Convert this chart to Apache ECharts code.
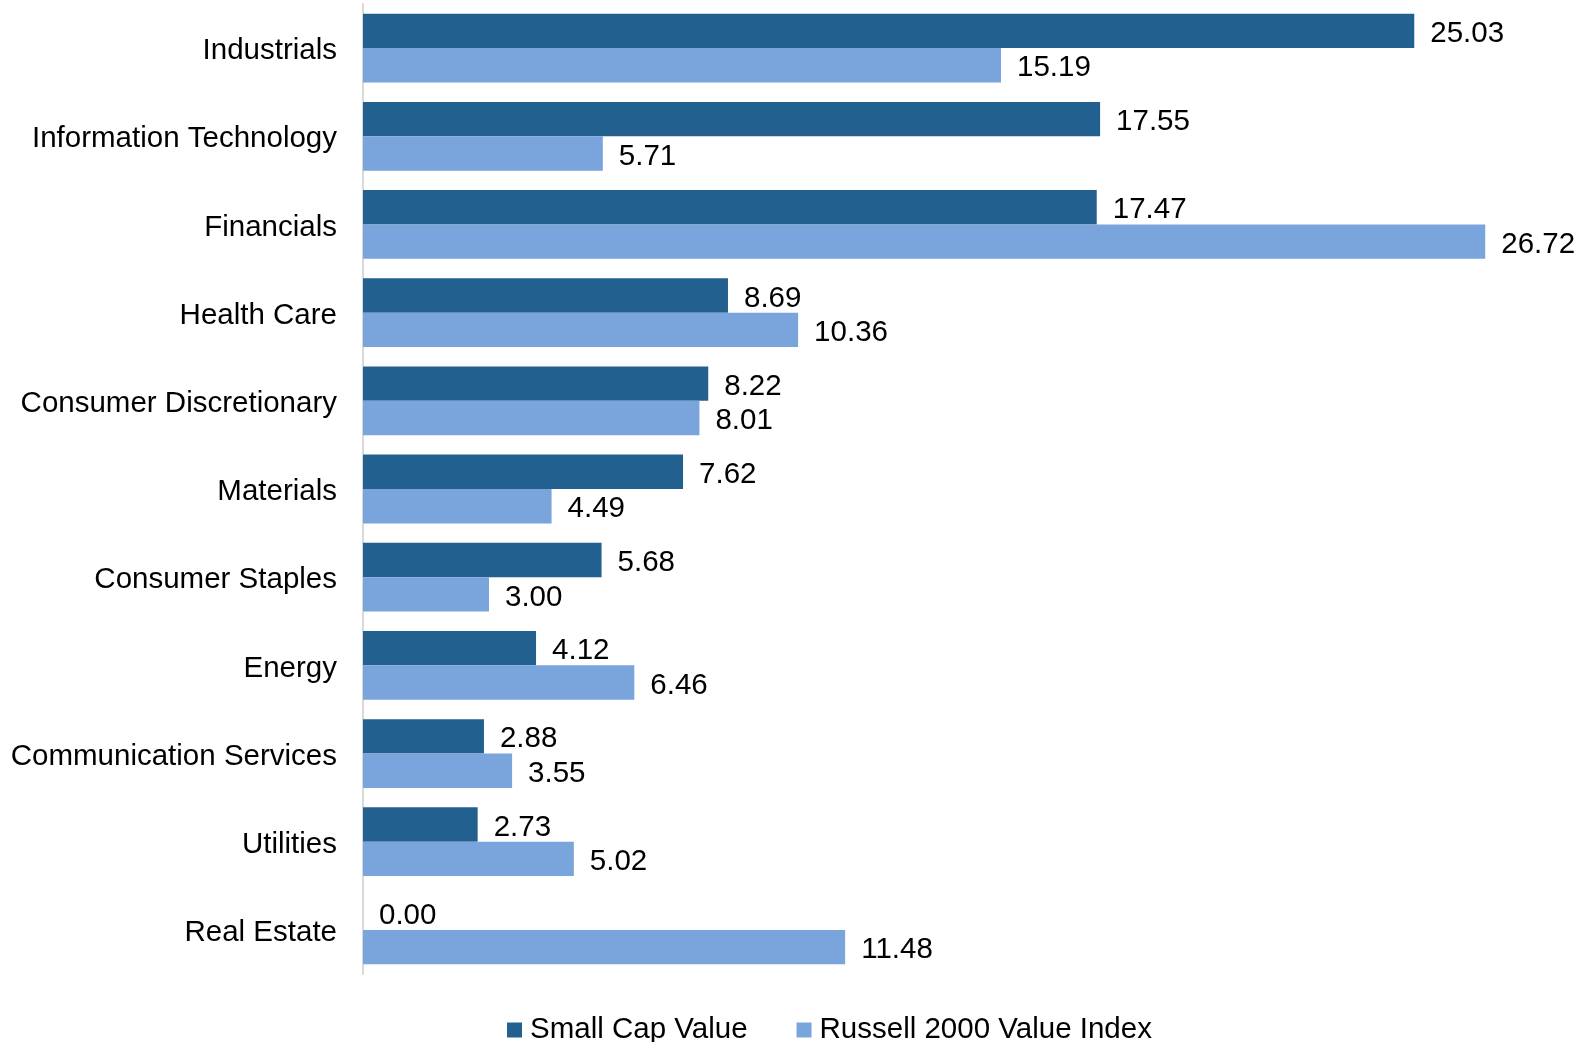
<!DOCTYPE html>
<html>
<head>
<meta charset="utf-8">
<title>Sector Weights</title>
<script src="https://cdn.jsdelivr.net/npm/echarts@6/dist/echarts.min.js"></script>
<style>
  html, body { margin: 0; padding: 0; background: #ffffff; }
  #chart { width: 1585px; height: 1042px; }
</style>
</head>
<body>
<div id="chart"></div>
<script>
// Sectors, top to bottom
const sectors = [
  'Industrials', 'Information Technology', 'Financials', 'Health Care',
  'Consumer Discretionary', 'Materials', 'Consumer Staples', 'Energy',
  'Communication Services', 'Utilities', 'Real Estate'
];
// Portfolio sector weights (%)
const smallCapValue = [25.03, 17.55, 17.47, 8.69, 8.22, 7.62, 5.68, 4.12, 2.88, 2.73, 0.00];
// Benchmark sector weights (%)
const russell2000Value = [15.19, 5.71, 26.72, 10.36, 8.01, 4.49, 3.00, 6.46, 3.55, 5.02, 11.48];
const seriesNames = ['Small Cap Value', 'Russell 2000 Value Index'];

const FONT = '"Liberation Sans", Arial, Helvetica, sans-serif';
const FONT_SIZE = 29.5;
const DARK = '#22608f';
const LIGHT = '#7aa4dc';

const labelCfg = {
  show: true,
  position: 'right',
  distance: 16,
  offset: [0, 3],
  color: '#000000',
  fontFamily: FONT,
  fontSize: FONT_SIZE,
  formatter: p => Number(p.value).toFixed(2)
};

const chart = echarts.init(document.getElementById('chart'), null, { renderer: 'canvas' });
chart.setOption({
  animation: false,
  backgroundColor: '#ffffff',
  grid: { left: 363, top: 4, width: 1176, height: 970, containLabel: false },
  legend: {
    left: 502,
    top: 1010,
    itemWidth: 15,
    itemHeight: 15,
    itemGap: 49,
    icon: 'rect',
    data: seriesNames,
    textStyle: { fontFamily: FONT, fontSize: FONT_SIZE, color: '#000000', padding: [0, 0, 0, 3] }
  },
  xAxis: {
    type: 'value',
    min: 0,
    max: 28,
    show: false,
    splitLine: { show: false }
  },
  yAxis: {
    type: 'category',
    data: sectors,
    inverse: true,
    axisTick: { show: false },
    axisLine: { show: true, lineStyle: { color: '#d9d9d9', width: 2 } },
    axisLabel: {
      margin: 26,
      formatter: v => '{s|' + v + '}',
      rich: {
        s: {
          color: '#000000',
          fontFamily: FONT,
          fontSize: FONT_SIZE,
          padding: [6, 0, 0, 0]
        }
      }
    }
  },
  series: [
    {
      name: seriesNames[0],
      type: 'bar',
      data: smallCapValue,
      barGap: '0%',
      barCategoryGap: '22%',
      itemStyle: { color: DARK },
      label: labelCfg
    },
    {
      name: seriesNames[1],
      type: 'bar',
      data: russell2000Value,
      barGap: '0%',
      barCategoryGap: '22%',
      itemStyle: { color: LIGHT },
      label: labelCfg
    }
  ]
});
</script>
</body>
</html>
